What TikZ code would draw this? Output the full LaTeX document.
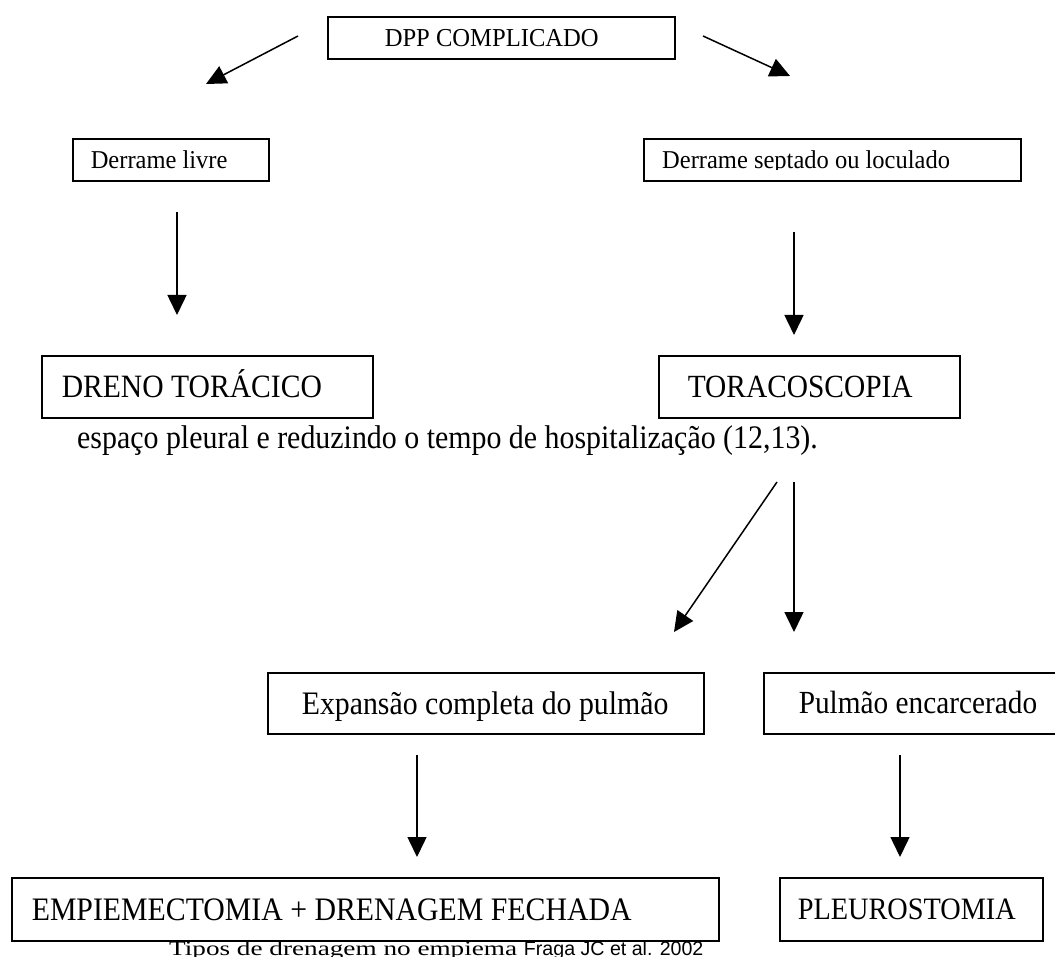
\documentclass[tikz,border=0pt]{standalone}
\usepackage{fontspec}
\usepackage{graphicx}
\setmainfont{Liberation Serif}
\newfontfamily\arialfont{Liberation Sans}
\usetikzlibrary{arrows.meta}
\newcommand{\fsz}[1]{\fontsize{#1}{#1}\selectfont}
% box content: width, left padding, vertical stretch, text (centred on its capitals)
\newcommand{\bxt}[4]{\makebox[#1pt][l]{\hspace{#2pt}\scalebox{1}[#3]{\smash{#4}\vphantom{D}}}}
\tikzset{
  box/.style={draw=black, line width=1.6pt, rectangle, anchor=north west, inner xsep=0pt, inner ysep=0pt},
  conn/.style={line width=1.5pt, -{Triangle[width=19pt,length=20pt]}},
}
\begin{document}
\begin{tikzpicture}[x=1pt,y=-1pt]
\clip (0,0) rectangle (1055,957);
\fill[white] (0,0) rectangle (1055,957);
% boxes
\node[box, minimum height=42pt, font=\fsz{24.6}] (dpp) at (327,16) {\bxt{347}{57}{1.05}{DPP COMPLICADO}};
\node[box, minimum height=42pt, font=\fsz{24.5}] (livre) at (72,138) {\bxt{196}{18}{1.05}{Derrame livre}};
\node[box, minimum width=377pt, minimum height=42pt] (septado) at (643,138) {};
\begin{scope}
\clip (643,130) rectangle (1020,170);
\node[anchor=base west, inner sep=0pt, font=\fsz{24.5}] (septadotxt) at (662,169) {\scalebox{1}[1.05]{Derrame septado ou loculado}};
\end{scope}
\node[box, minimum height=62pt, font=\fsz{29.6}] (dreno) at (41,355) {\bxt{331}{20}{1.1}{DRENO TORÁCICO}};
\node[box, minimum height=62pt, font=\fsz{29.4}] (toraco) at (658,355) {\bxt{301}{29}{1.1}{TORACOSCOPIA}};
\node[anchor=base west, inner sep=0pt, font=\fsz{29.9}] (nota) at (77,448) {\scalebox{1}[1.1]{espaço pleural e reduzindo o tempo de hospitalização (12,13).}};
\node[box, minimum height=61pt, font=\fsz{29.8}] (expansao) at (267,672) {\bxt{436}{34}{1.1}{Expansão completa do pulmão}};
\node[box, minimum height=61pt, font=\fsz{29.3}] (encarc) at (763,672) {\bxt{320}{35}{1.1}{Pulmão encarcerado}};
\node[box, minimum height=63pt, font=\fsz{29.8}] (empiem) at (11,877) {\bxt{707}{20}{1.1}{EMPIEMECTOMIA + DRENAGEM FECHADA}};
\node[box, minimum height=63pt, font=\fsz{28.3}] (pleuro) at (779,877) {\bxt{263}{18}{1.1}{PLEUROSTOMIA}};
\node[anchor=base west, inner sep=0pt, font=\fsz{27.2}] (caption) at (169,955) {\scalebox{1}[0.75]{Tipos de drenagem no empiema} {\arialfont\fsz{19.6}Fraga JC et al. 2002}};
% connector end points
\coordinate (a1s) at (298,36);  \coordinate (a1e) at (206,84);
\coordinate (a2s) at (703,36);  \coordinate (a2e) at (790,76);
\coordinate (a3s) at (177,212); \coordinate (a3e) at (177,315);
\coordinate (a4s) at (794,232); \coordinate (a4e) at (794,335);
\coordinate (a5s) at (777,482); \coordinate (a5e) at (674,632);
\coordinate (a6s) at (794,482); \coordinate (a6e) at (794,632);
\coordinate (a7s) at (417,755); \coordinate (a7e) at (417,857);
\coordinate (a8s) at (900,755); \coordinate (a8e) at (900,857);
\foreach \i in {1,...,8} { \draw[conn] (a\i s) -- (a\i e); }
\end{tikzpicture}
\end{document}
